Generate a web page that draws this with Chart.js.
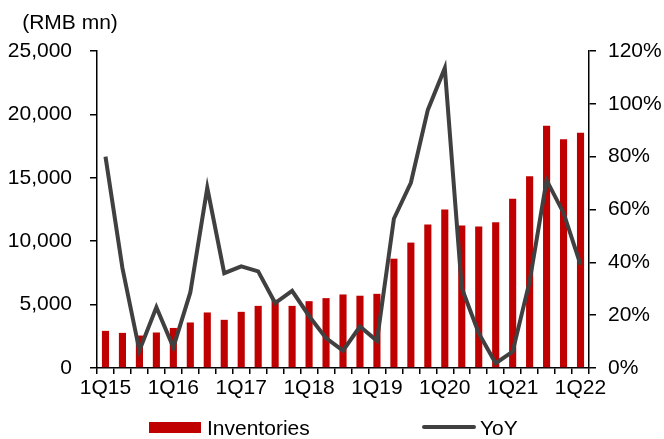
<!DOCTYPE html>
<html><head><meta charset="utf-8">
<script src="https://cdn.jsdelivr.net/npm/chart.js@4"></script>
<style>
html,body{margin:0;padding:0;background:#fff;}
#wrap{position:relative;width:664px;height:439px;}
canvas{position:absolute;left:0;top:0;}
.leg{position:absolute;font-family:"Liberation Sans",Arial,sans-serif;font-size:21px;color:#000;line-height:21px;white-space:nowrap;}
</style></head><body>
<div id="wrap"><canvas id="c" width="664" height="439"></canvas>
<div class="leg" style="left:149px;top:422px;width:52px;height:11px;background:#C00000"></div>
<div class="leg" style="left:207px;top:417px;">Inventories</div>
<div class="leg" style="left:422px;top:425px;width:54px;height:4px;background:#404040;border-radius:2px"></div>
<div class="leg" style="left:480px;top:417px;">YoY</div>
</div>
<script>
const categories = ['1Q15','2Q15','3Q15','4Q15','1Q16','2Q16','3Q16','4Q16','1Q17','2Q17','3Q17','4Q17','1Q18','2Q18','3Q18','4Q18','1Q19','2Q19','3Q19','4Q19','1Q20','2Q20','3Q20','4Q20','1Q21','2Q21','3Q21','4Q21','1Q22'];
const inventories = [2930,2770,2560,2800,3160,3590,4380,3800,4430,4900,5380,4900,5270,5510,5800,5700,5850,8620,9890,11310,12500,11230,11150,11500,13340,15130,19110,18040,18560];
const yoy = [80.0,37.8,6.6,23.0,7.8,28.6,68.2,35.9,38.5,36.6,24.6,29.2,19.7,11.3,6.6,15.7,10.3,56.5,70.1,97.7,113.5,30.3,13.2,1.8,6.2,32.8,71.1,58.7,39.1];
const xTickLabels = ['1Q15','1Q16','1Q17','1Q18','1Q19','1Q20','1Q21','1Q22'];
const unitLabel = '(RMB mn)';

const FONT = {family:'"Liberation Sans", Arial, sans-serif', size:21};
const unitPlugin = {
  id:'unit',
  afterDraw(chart){
    const ctx = chart.ctx;
    ctx.save();
    ctx.font = '21px "Liberation Sans", Arial, sans-serif';
    ctx.fillStyle = '#000';
    ctx.textAlign = 'center';
    ctx.textBaseline = 'middle';
    ctx.fillText(unitLabel, 70, 23);
    ctx.restore();
  }
};

new Chart(document.getElementById('c'), {
  type:'bar',
  data:{
    labels:categories,
    datasets:[
      {type:'bar', label:'Inventories', data:inventories, backgroundColor:'#C00000', yAxisID:'y', order:2,
       barPercentage:0.42, categoryPercentage:1.0},
      {type:'line', label:'YoY', data:yoy, borderColor:'#404040', borderWidth:4, pointRadius:0, tension:0,
       yAxisID:'y1', order:1, fill:false}
    ]
  },
  options:{
    responsive:false,
    animation:false,
    layout:{padding:{top:51,bottom:41,left:0,right:0}},
    plugins:{legend:{display:false}, tooltip:{enabled:false}},
    scales:{
      x:{
        grid:{display:true, drawOnChartArea:false, drawTicks:true, tickLength:6, color:'#000', lineWidth:1.5, offset:true},
        border:{display:true, color:'#000', width:1.5},
        ticks:{autoSkip:false, maxRotation:0, minRotation:0, color:'#000', font:FONT, padding:2,
          callback:function(v,i){ const l = categories[i]; return xTickLabels.includes(l) ? l : ''; }},
        afterFit:s=>{s.height=30;}
      },
      y:{
        position:'left', min:0, max:25000,
        grid:{display:true, drawOnChartArea:false, drawTicks:true, tickLength:7, color:'#000', lineWidth:1.5},
        border:{display:true, color:'#000', width:1.5},
        ticks:{stepSize:5000, color:'#000', font:FONT, padding:18,
          callback:v=>v.toLocaleString('en-US')},
        afterFit:s=>{s.width=97;}
      },
      y1:{
        position:'right', min:0, max:120,
        grid:{display:true, drawOnChartArea:false, drawTicks:true, tickLength:7, color:'#000', lineWidth:1.5},
        border:{display:true, color:'#000', width:1.5},
        ticks:{stepSize:20, color:'#000', font:FONT, padding:12, callback:v=>v+'%'},
        afterFit:s=>{s.width=75;}
      }
    }
  },
  plugins:[unitPlugin]
});
</script>
</body></html>
